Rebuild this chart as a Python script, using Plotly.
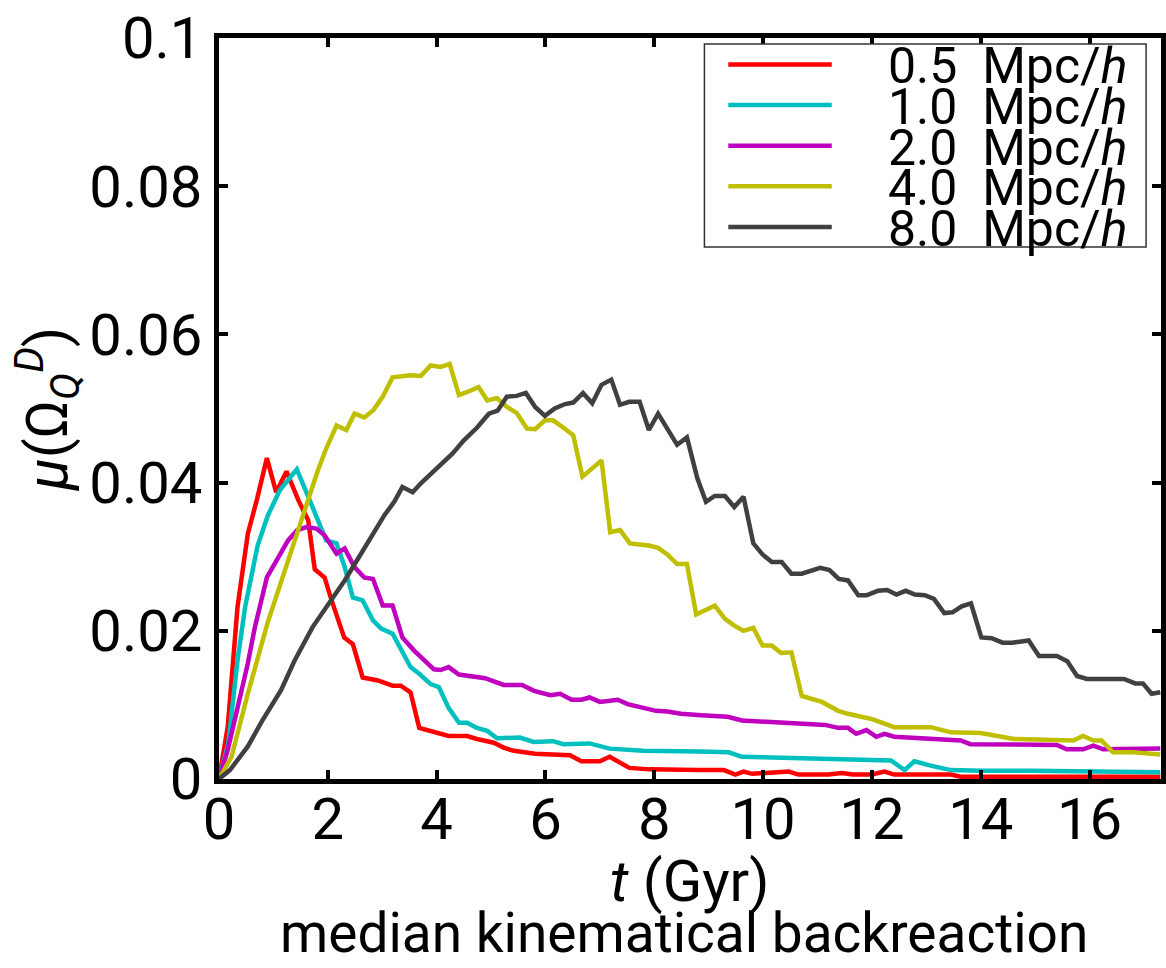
import plotly.graph_objects as go

# ---------------- data ----------------
series_names = ["0.5\u00a0 Mpc/<i>h</i>", "1.0\u00a0 Mpc/<i>h</i>", "2.0\u00a0 Mpc/<i>h</i>",
                "4.0\u00a0 Mpc/<i>h</i>", "8.0\u00a0 Mpc/<i>h</i>"]
series_colors = ["#ff0000", "#00bfbf", "#bf00bf", "#bfbf00", "#404040"]

t_r = [0, 0.16, 0.34, 0.53, 0.70, 0.88, 1.05, 1.24, 1.46, 1.64, 1.76, 1.94, 2.07,
       2.30, 2.46, 2.64, 2.92, 3.19, 3.34, 3.52, 3.68, 3.95, 4.22, 4.56, 4.74,
       5.05, 5.24, 5.42, 5.81, 6.45, 6.66, 7.00, 7.18, 7.54, 7.91, 8.82, 9.28,
       9.49, 9.64, 9.80, 10.20, 10.47, 10.65, 11.20, 11.45, 11.65, 12.00, 12.23,
       12.41, 13.45, 13.63, 17.30]
v_r = [0, 0.0070, 0.0232, 0.0331, 0.0378, 0.0433, 0.0387, 0.0415, 0.0376, 0.0349,
       0.0283, 0.0272, 0.0241, 0.0191, 0.0182, 0.0137, 0.0133, 0.0126, 0.0126,
       0.0117, 0.0069, 0.0063, 0.0058, 0.0058, 0.0054, 0.0049, 0.0042, 0.0038,
       0.0034, 0.0032, 0.0024, 0.0024, 0.0030, 0.0015, 0.0013, 0.0012, 0.0012,
       0.0006, 0.0010, 0.0007, 0.0008, 0.0010, 0.0006, 0.0006, 0.0008, 0.0006,
       0.0006, 0.0010, 0.0006, 0.0006, 0.0003, 0.0003]

t_c = [0, 0.17, 0.34, 0.48, 0.71, 0.90, 1.12, 1.27, 1.43, 1.64, 1.82, 1.97, 2.16,
       2.31, 2.46, 2.64, 2.83, 2.98, 3.19, 3.37, 3.52, 3.68, 3.89, 4.04, 4.22,
       4.41, 4.56, 4.74, 4.93, 5.11, 5.53, 5.78, 6.14, 6.33, 6.81, 7.18, 7.79,
       8.82, 9.37, 9.61, 10.65, 11.38, 12.35, 12.60, 12.78, 13.08, 13.45, 14.00,
       14.91, 17.30]
v_c = [0, 0.0047, 0.0160, 0.0232, 0.0315, 0.0356, 0.0390, 0.0403, 0.0418, 0.0381,
       0.0349, 0.0322, 0.0318, 0.0286, 0.0245, 0.0241, 0.0214, 0.0203, 0.0196,
       0.0173, 0.0151, 0.0142, 0.0128, 0.0124, 0.0096, 0.0076, 0.0076, 0.0069,
       0.0065, 0.0055, 0.0056, 0.0050, 0.0051, 0.0047, 0.0048, 0.0041, 0.0038,
       0.0037, 0.0036, 0.0030, 0.0028, 0.0026, 0.0025, 0.0012, 0.0024, 0.0018,
       0.0012, 0.0011, 0.0011, 0.0009]

t_m = [0, 0.16, 0.53, 0.66, 0.88, 1.09, 1.27, 1.44, 1.61, 1.79, 1.94, 2.16, 2.31,
       2.49, 2.67, 2.83, 3.01, 3.19, 3.37, 3.59, 3.77, 3.95, 4.07, 4.22, 4.41,
       4.59, 4.89, 5.23, 5.57, 5.79, 6.09, 6.27, 6.48, 6.66, 6.81, 7.00, 7.33,
       7.51, 7.76, 8.03, 8.24, 8.49, 8.86, 9.35, 9.61, 10.53, 11.14, 11.38, 11.56,
       11.71, 11.90, 12.08, 12.23, 12.41, 13.63, 13.81, 15.40, 15.58, 15.88,
       16.07, 16.25, 17.30]
v_m = [0, 0.0039, 0.0156, 0.0205, 0.0272, 0.0300, 0.0322, 0.0336, 0.0340, 0.0338,
       0.0329, 0.0304, 0.0311, 0.0286, 0.0272, 0.0270, 0.0234, 0.0234, 0.0191,
       0.0173, 0.0160, 0.0148, 0.0147, 0.0151, 0.0141, 0.0139, 0.0136, 0.0127,
       0.0127, 0.0119, 0.0113, 0.0115, 0.0107, 0.0107, 0.0110, 0.0104, 0.0107,
       0.0101, 0.0097, 0.0092, 0.0091, 0.0088, 0.0086, 0.0084, 0.0079, 0.0076,
       0.0073, 0.0069, 0.0069, 0.0061, 0.0066, 0.0057, 0.0061, 0.0057, 0.0052,
       0.0047, 0.0046, 0.0040, 0.0040, 0.0045, 0.0040, 0.0041]

t_y = [0, 0.23, 0.53, 0.89, 1.15, 1.39, 1.64, 1.82, 1.97, 2.16, 2.34, 2.49, 2.67,
       2.84, 3.01, 3.19, 3.52, 3.71, 3.89, 4.07, 4.24, 4.41, 4.59, 4.77, 4.93,
       5.11, 5.29, 5.47, 5.66, 5.81, 5.99, 6.14, 6.33, 6.51, 6.68, 7.03, 7.19,
       7.37, 7.55, 7.90, 8.07, 8.24, 8.42, 8.60, 8.77, 8.96, 9.11, 9.30, 9.47,
       9.64, 9.82, 9.99, 10.16, 10.33, 10.52, 10.71, 10.90, 11.08, 11.38, 11.56,
       11.99, 12.23, 12.41, 13.08, 13.45, 14.00, 14.61, 15.70, 15.88, 16.07,
       16.22, 16.43, 16.80, 17.30]
v_y = [0, 0.0030, 0.0115, 0.0210, 0.0268, 0.0322, 0.0381, 0.0417, 0.0446, 0.0477,
       0.0471, 0.0493, 0.0488, 0.0498, 0.0516, 0.0542, 0.0545, 0.0544, 0.0558,
       0.0556, 0.0560, 0.0518, 0.0523, 0.0529, 0.0511, 0.0514, 0.0502, 0.0494,
       0.0473, 0.0472, 0.0484, 0.0484, 0.0474, 0.0464, 0.0408, 0.0430, 0.0333,
       0.0336, 0.0318, 0.0315, 0.0312, 0.0303, 0.0290, 0.0290, 0.0222, 0.0229,
       0.0234, 0.0216, 0.0207, 0.0200, 0.0204, 0.0180, 0.0180, 0.0170, 0.0171,
       0.0112, 0.0108, 0.0104, 0.0092, 0.0088, 0.0081, 0.0074, 0.0070, 0.0070,
       0.0063, 0.0062, 0.0054, 0.0052, 0.0058, 0.0052, 0.0052, 0.0036, 0.0036,
       0.0033]

t_k = [0, 0.20, 0.53, 0.79, 1.14, 1.39, 1.72, 2.00, 2.31, 2.61, 2.92, 3.04, 3.22,
       3.37, 3.56, 3.71, 4.07, 4.29, 4.50, 4.74, 4.96, 5.12, 5.29, 5.47, 5.64,
       5.81, 5.99, 6.17, 6.36, 6.51, 6.69, 6.86, 7.03, 7.21, 7.37, 7.54, 7.73,
       7.90, 8.07, 8.24, 8.42, 8.60, 8.79, 8.95, 9.11, 9.30, 9.47, 9.64, 9.82,
       9.99, 10.16, 10.34, 10.52, 10.71, 11.05, 11.22, 11.39, 11.56, 11.75, 11.90,
       12.11, 12.28, 12.45, 12.62, 12.79, 12.97, 13.14, 13.33, 13.48, 13.65,
       13.82, 14.01, 14.20, 14.40, 14.58, 14.88, 15.07, 15.40, 15.59, 15.77,
       15.95, 16.63, 16.84, 16.98, 17.14, 17.30]
v_k = [0, 0.0012, 0.0044, 0.0078, 0.0120, 0.0160, 0.0205, 0.0234, 0.0268, 0.0304,
       0.0340, 0.0356, 0.0374, 0.0394, 0.0387, 0.0399, 0.0424, 0.0439, 0.0457,
       0.0474, 0.0493, 0.0497, 0.0516, 0.0517, 0.0521, 0.0502, 0.0490, 0.0500,
       0.0506, 0.0508, 0.0521, 0.0507, 0.0532, 0.0539, 0.0505, 0.0509, 0.0509,
       0.0471, 0.0493, 0.0473, 0.0451, 0.0461, 0.0406, 0.0374, 0.0382, 0.0382,
       0.0367, 0.0381, 0.0318, 0.0303, 0.0293, 0.0293, 0.0277, 0.0277, 0.0285,
       0.0282, 0.0270, 0.0268, 0.0248, 0.0248, 0.0254, 0.0255, 0.0249, 0.0254,
       0.0249, 0.0248, 0.0243, 0.0224, 0.0225, 0.0233, 0.0237, 0.0191, 0.0190,
       0.0184, 0.0184, 0.0187, 0.0166, 0.0166, 0.0159, 0.0139, 0.0135, 0.0135,
       0.0129, 0.0129, 0.0115, 0.0117]

x_tickvals = [0, 2, 4, 6, 8, 10, 12, 14, 16]
y_tickvals = [0, 0.02, 0.04, 0.06, 0.08, 0.1]
y_ticktext = ["0", "0.02", "0.04", "0.06", "0.08", "0.1"]

all_t = [t_r, t_c, t_m, t_y, t_k]
all_v = [v_r, v_c, v_m, v_y, v_k]

# ---------------- layout constants ----------------
W, H = 1166, 968
ML, MR, MT, MB = 219, 0, 38, 189
PW, PH = W - ML - MR, H - MT - MB
FONT = "Roboto"


def px_x(px):
    return (px - ML) / PW


def px_y(py):
    return (H - MB - py) / PH


fig = go.Figure()
for name, col, tt, vv in zip(series_names, series_colors, all_t, all_v):
    fig.add_trace(go.Scatter(x=tt, y=vv, mode="lines", name=name,
                             line=dict(color=col, width=4.5), showlegend=False))

axis_common = dict(showline=True, linewidth=5, linecolor="black", mirror="allticks",
                   ticks="inside", ticklen=9, tickwidth=4, tickcolor="black",
                   showgrid=False, zeroline=False,
                   tickfont=dict(family=FONT, size=58, color="black"))

fig.update_xaxes(range=[0, PW / 54.7], tickvals=x_tickvals, ticklabelstandoff=-15,
                 **axis_common)
fig.update_yaxes(range=[0, 0.1], tickvals=y_tickvals, ticktext=y_ticktext, **axis_common,
                 title=dict(text="<i>μ</i>(Ω<sub><i>Q</i></sub><sup><i>D</i></sup>)",
                            font=dict(family=FONT, size=58, color="black"), standoff=0))

shapes = []
annotations = []
# legend box
shapes.append(dict(type="rect", xref="paper", yref="paper",
                   x0=px_x(707), x1=px_x(1151), y0=px_y(247), y1=px_y(44),
                   line=dict(color="#333333", width=1.5), fillcolor="white", layer="above"))
for i, (name, col) in enumerate(zip(series_names, series_colors)):
    yy = 64.5 + 40.6 * i
    shapes.append(dict(type="line", xref="paper", yref="paper",
                       x0=px_x(731), x1=px_x(835), y0=px_y(yy), y1=px_y(yy),
                       line=dict(color=col, width=4.5), layer="above"))
    annotations.append(dict(text=name, xref="paper", yref="paper",
                            x=px_x(891), y=px_y(yy + 2), xanchor="left", yanchor="middle",
                            showarrow=False, borderpad=0,
                            font=dict(family=FONT, size=50, color="black")))

# x-axis title and the caption below it
annotations.append(dict(text="<i>t</i> (Gyr)", xref="paper", yref="paper",
                        x=px_x(692), y=px_y(881), xanchor="center", yanchor="middle",
                        showarrow=False, borderpad=0,
                        font=dict(family=FONT, size=58, color="black")))
annotations.append(dict(text="median kinematical backreaction", xref="paper", yref="paper",
                        x=px_x(686), y=px_y(933), xanchor="center", yanchor="middle",
                        showarrow=False, borderpad=0,
                        font=dict(family=FONT, size=55, color="black")))

fig.update_layout(width=W, height=H, margin=dict(l=ML, r=MR, t=MT, b=MB, pad=0),
                  paper_bgcolor="white", plot_bgcolor="white",
                  shapes=shapes, annotations=annotations,
                  font=dict(family=FONT, color="black"))

fig.write_html("out.html", config={"displayModeBar": False},
               post_script="document.body.style.margin='0';")
